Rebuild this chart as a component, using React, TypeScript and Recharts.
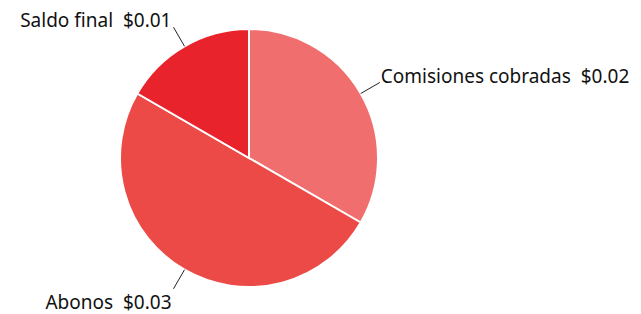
import { PieChart, Pie, Cell } from "recharts";

const names = ["Comisiones cobradas", "Abonos", "Saldo final"];
const values = [0.02, 0.03, 0.01];
const colors = ["#f16e6e", "#ec4a46", "#e8232b"];

const data = names.map((name, i) => ({ name, value: values[i] }));

const RADIAN = Math.PI / 180;

// label with a short radial leader line, text sits at the end of it
function renderLabel(props: any) {
  const { cx, cy, midAngle, outerRadius, name, value } = props;
  const cos = Math.cos(-midAngle * RADIAN);
  const sin = Math.sin(-midAngle * RADIAN);
  const sx = cx + outerRadius * cos;
  const sy = cy + outerRadius * sin;
  const ex = cx + (outerRadius + 22) * cos;
  const ey = cy + (outerRadius + 22) * sin;
  const right = cos >= 0;
  const ty = sin > 0 ? ey + 20 : ey;
  return (
    <g>
      <line x1={sx} y1={sy} x2={ex} y2={ey} stroke="#222" strokeWidth={1} />
      <text
        x={right ? ex + 1 : ex - 2}
        y={ty}
        textAnchor={right ? "start" : "end"}
        fill="#111"
        fontSize={19}
        fontFamily="'Noto Sans', sans-serif"
        style={{ whiteSpace: "pre" }}
      >
        {`${name}  $${value.toFixed(2)}`}
      </text>
    </g>
  );
}

export default function App() {
  return (
    <div style={{ position: "absolute", left: 0, top: 0, width: 641, height: 314, background: "#fff" }}>
      <PieChart width={641} height={314} margin={{ top: 0, right: 0, bottom: 0, left: 0 }}>
        <Pie
          data={data}
          dataKey="value"
          nameKey="name"
          cx={249}
          cy={158}
          outerRadius={129}
          startAngle={90}
          endAngle={-270}
          stroke="#fff"
          strokeWidth={2}
          label={renderLabel}
          labelLine={false}
          isAnimationActive={false}
        >
          {data.map((d, i) => (
            <Cell key={d.name} fill={colors[i]} />
          ))}
        </Pie>
      </PieChart>
    </div>
  );
}
